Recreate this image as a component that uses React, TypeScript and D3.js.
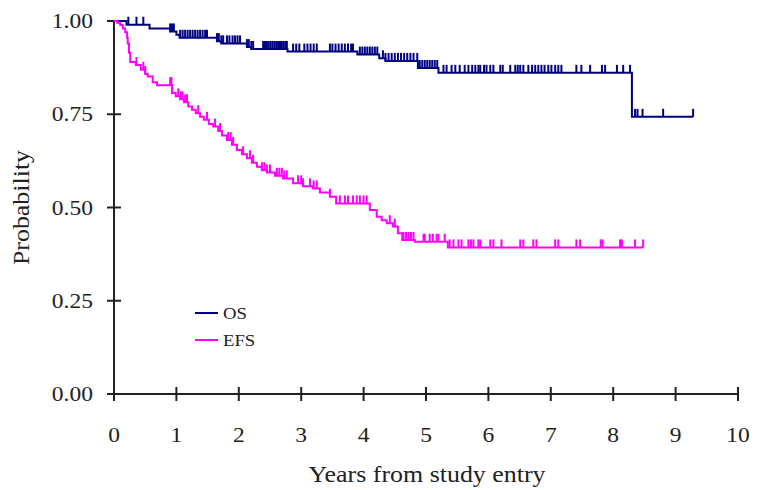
import React, { useEffect, useRef } from "react";
import * as d3 from "d3";

// Kaplan-Meier steps (time in years, survival after the step)
const osTimes = [0.2, 0.57, 0.9, 1.0, 1.05, 1.65, 1.72, 2.13, 2.2, 2.78, 3.9, 4.25, 4.35, 4.87, 5.2, 8.3];
const osSurv = [0.99, 0.98, 0.972, 0.963, 0.955, 0.946, 0.94, 0.93, 0.925, 0.918, 0.91, 0.9, 0.893, 0.874, 0.861, 0.743];
const osEnd = 9.28;
const osCensor = [
    0.23, 0.36, 0.47, 0.9, 0.93, 0.96, 1.06, 1.1, 1.14, 1.18, 1.22, 1.26, 1.3, 1.34, 1.38, 1.42, 1.46, 1.49,
    1.65, 1.68, 1.72, 1.75, 1.81, 1.85, 1.9, 1.94, 1.98, 2.02, 2.13, 2.16, 2.2, 2.23,
    2.39, 2.42, 2.45, 2.48, 2.51, 2.54, 2.57, 2.6, 2.63, 2.66, 2.69, 2.72, 2.75, 2.77,
    2.87, 2.92, 2.97, 3.05, 3.1, 3.15, 3.2, 3.25, 3.46, 3.5, 3.55, 3.6, 3.65, 3.7, 3.75, 3.8, 3.83,
    3.94, 3.98, 4.02, 4.06, 4.1, 4.14, 4.18, 4.22, 4.31, 4.35, 4.4, 4.45, 4.5, 4.55, 4.6, 4.65, 4.7, 4.75, 4.8,
    4.86, 4.9, 4.94, 4.98, 5.02, 5.06, 5.1, 5.14, 5.18,
    5.28, 5.33, 5.41, 5.47, 5.54, 5.62, 5.68, 5.74, 5.79, 5.84, 5.87, 5.93, 5.97, 6.03, 6.08, 6.19, 6.23,
    6.35, 6.43, 6.47, 6.51, 6.56, 6.64, 6.7, 6.75, 6.8, 6.85, 6.9, 6.96, 7.01, 7.07, 7.12, 7.17,
    7.41, 7.49, 7.63, 7.82, 7.87, 8.06, 8.16, 8.27, 8.35, 8.39, 8.47, 8.8, 9.28,
];

const efsTimes = [
    0.05, 0.1, 0.14, 0.18, 0.21, 0.22, 0.24, 0.26, 0.35, 0.43, 0.5, 0.54, 0.62, 0.69, 0.93, 0.99, 1.06, 1.12,
    1.19, 1.25, 1.31, 1.38, 1.44, 1.52, 1.59, 1.67, 1.73, 1.81, 1.89, 1.97, 2.05, 2.13, 2.21, 2.29, 2.37,
    2.45, 2.58, 2.71, 2.87, 3.03, 3.19, 3.3, 3.46, 3.56, 4.1, 4.21, 4.29, 4.37, 4.47, 4.55, 4.62, 4.82, 5.35,
];
const efsSurv = [
    0.995, 0.989, 0.98, 0.97, 0.955, 0.94, 0.915, 0.89, 0.882, 0.869, 0.858, 0.851, 0.836, 0.828, 0.807, 0.798,
    0.79, 0.782, 0.771, 0.762, 0.753, 0.743, 0.735, 0.724, 0.717, 0.705, 0.693, 0.681, 0.668, 0.654, 0.643,
    0.632, 0.62, 0.609, 0.6, 0.594, 0.585, 0.578, 0.565, 0.557, 0.551, 0.54, 0.529, 0.511, 0.493, 0.475,
    0.466, 0.458, 0.449, 0.431, 0.413, 0.408, 0.393,
];
const efsEnd = 8.48;
const efsCensor = [
    0.36, 0.47, 0.5, 0.9, 0.92, 1.03, 1.07, 1.1, 1.14, 1.17, 1.35, 1.49, 1.62, 1.7, 1.83, 1.87, 1.91, 2.07,
    2.18, 2.23, 2.37, 2.41, 2.45, 2.5, 2.61, 2.65, 2.69, 2.73, 2.77, 2.95, 3.0, 3.03, 3.14, 3.2, 3.25, 3.46,
    3.62, 3.7, 3.75, 3.83, 3.89, 3.94, 4.0, 4.05, 4.42, 4.5, 4.64, 4.68, 4.72, 4.76, 4.8,
    4.96, 4.98, 5.06, 5.11, 5.17, 5.2, 5.3, 5.38, 5.44, 5.52, 5.57, 5.68, 5.72, 5.76, 5.84, 5.87, 6.03, 6.08,
    6.21, 6.51, 6.56, 6.72, 6.77, 7.07, 7.12, 7.41, 7.47, 7.8, 7.83, 8.11, 8.14, 8.35, 8.48,
];

const xTicks = [0, 1, 2, 3, 4, 5, 6, 7, 8, 9, 10];
const yTicks = [0, 0.25, 0.5, 0.75, 1];
const seriesNames = ["OS", "EFS"];
const seriesColors = ["#000080", "#ff00ff"];

const FONT = "'Liberation Serif', 'Times New Roman', serif";

const App = () => {
    const svgRef = useRef<SVGSVGElement>(null);

    useEffect(() => {
        const svg = d3.select(svgRef.current);
        svg.selectAll("*").remove();

        const width = 757;
        const height = 490;
        const left = 114;
        const right = 738;
        const top = 21;
        const bottom = 394;

        svg.attr("width", width).attr("height", height);

        const x = d3.scaleLinear().domain([0, 10]).range([left, right]);
        const y = d3.scaleLinear().domain([0, 1]).range([bottom, top]);

        // axes
        const axisColor = "#222";
        svg.append("line")
            .attr("x1", left).attr("x2", left).attr("y1", top).attr("y2", bottom)
            .attr("stroke", axisColor).attr("stroke-width", 2);
        svg.append("line")
            .attr("x1", left).attr("x2", right).attr("y1", bottom).attr("y2", bottom)
            .attr("stroke", axisColor).attr("stroke-width", 2);

        yTicks.forEach((t) => {
            svg.append("line")
                .attr("x1", left - 7).attr("x2", left + 7)
                .attr("y1", y(t)).attr("y2", y(t))
                .attr("stroke", axisColor).attr("stroke-width", 2);
            svg.append("text")
                .attr("transform", `translate(${left - 21}, ${y(t) + 7}) scale(1.12, 1)`)
                .attr("text-anchor", "end")
                .style("font-family", FONT)
                .style("font-size", "21px")
                .style("fill", "#222")
                .text(d3.format(".2f")(t));
        });

        xTicks.forEach((t) => {
            svg.append("line")
                .attr("x1", x(t)).attr("x2", x(t))
                .attr("y1", bottom - 7).attr("y2", bottom + 7)
                .attr("stroke", axisColor).attr("stroke-width", 2);
            svg.append("text")
                .attr("transform", `translate(${x(t)}, ${bottom + 48}) scale(1.12, 1)`)
                .attr("text-anchor", "middle")
                .style("font-family", FONT)
                .style("font-size", "21px")
                .style("fill", "#222")
                .text(t);
        });

        svg.append("text")
            .attr("transform", `translate(${(left + right) / 2 + 1}, 482) scale(1.08, 1)`)
            .attr("text-anchor", "middle")
            .style("font-family", FONT)
            .style("font-size", "24px")
            .style("fill", "#222")
            .text("Years from study entry");

        svg.append("text")
            .attr("transform", `translate(29, ${(top + bottom) / 2}) rotate(-90) scale(1.08, 1)`)
            .attr("text-anchor", "middle")
            .style("font-family", FONT)
            .style("font-size", "24px")
            .style("fill", "#222")
            .text("Probability");

        // curves
        const survAt = (times: number[], surv: number[], t: number) => {
            let s = 1;
            times.forEach((tt, i) => {
                if (tt <= t) s = surv[i];
            });
            return s;
        };

        const line = d3.line<[number, number]>()
            .x((d) => x(d[0]))
            .y((d) => y(d[1]))
            .curve(d3.curveStepAfter);

        const series = [
            { times: osTimes, surv: osSurv, end: osEnd, censor: osCensor },
            { times: efsTimes, surv: efsSurv, end: efsEnd, censor: efsCensor },
        ];

        series.forEach((s, i) => {
            const pts: [number, number][] = [[0, 1]];
            s.times.forEach((t, j) => pts.push([t, s.surv[j]]));
            pts.push([s.end, s.surv[s.surv.length - 1]]);

            svg.append("path")
                .attr("d", line(pts))
                .attr("fill", "none")
                .attr("stroke", seriesColors[i])
                .attr("stroke-width", 2);

            svg.append("g")
                .selectAll("line")
                .data(s.censor)
                .enter()
                .append("line")
                .attr("x1", (d) => x(d))
                .attr("x2", (d) => x(d))
                .attr("y1", (d) => y(survAt(s.times, s.surv, d)))
                .attr("y2", (d) => y(survAt(s.times, s.surv, d)) - 8)
                .attr("stroke", seriesColors[i])
                .attr("stroke-width", 2);
        });

        // legend
        const legend = svg.append("g").attr("transform", "translate(195, 313)");
        seriesNames.forEach((name, i) => {
            legend.append("line")
                .attr("x1", 0).attr("x2", 23)
                .attr("y1", i * 27).attr("y2", i * 27)
                .attr("stroke", seriesColors[i])
                .attr("stroke-width", 2);
            legend.append("text")
                .attr("transform", `translate(28, ${i * 27 + 6}) scale(1.1, 1)`)
                .style("font-family", FONT)
                .style("font-size", "17px")
                .style("fill", "#222")
                .text(name);
        });
    }, []);

    return (
        <div style={{ position: "absolute", left: 0, top: 0 }}>
            <svg ref={svgRef}></svg>
        </div>
    );
};

export default App;
